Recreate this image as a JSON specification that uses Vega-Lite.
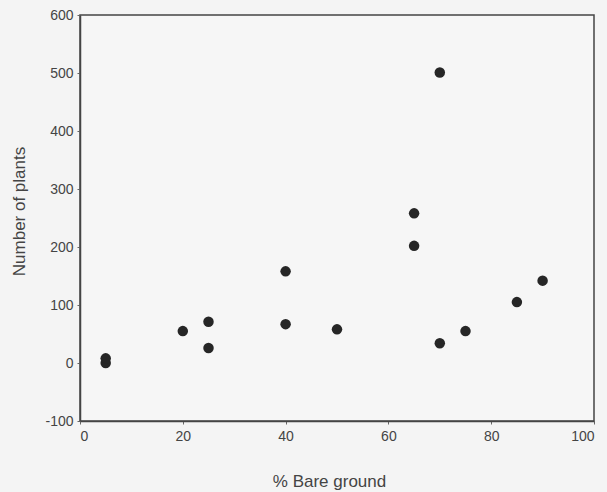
{
  "$schema": "https://vega.github.io/schema/vega-lite/v6.json",
  "width": 514,
  "height": 406,
  "autosize": {"type": "none"},
  "padding": {"left": 80, "top": 15, "right": 13, "bottom": 71},
  "background": "#f4f4f4",
  "config": {
    "view": {"stroke": "#444444", "strokeWidth": 1.5, "fill": "#f6f6f6"},
    "axis": {
      "labelFont": "Liberation Sans",
      "titleFont": "Liberation Sans",
      "labelFontSize": 14,
      "titleFontSize": 17,
      "titleFontWeight": "normal",
      "labelColor": "#444444",
      "titleColor": "#444444",
      "domainColor": "#444444",
      "domainWidth": 1.5,
      "tickColor": "#666666",
      "tickSize": 3,
      "grid": false
    }
  },
  "data": {
    "values": [
      {"bare": 5, "plants": 0},
      {"bare": 5, "plants": 8},
      {"bare": 20, "plants": 55},
      {"bare": 25, "plants": 71},
      {"bare": 25, "plants": 26},
      {"bare": 40, "plants": 158},
      {"bare": 40, "plants": 67},
      {"bare": 50, "plants": 58},
      {"bare": 65, "plants": 258},
      {"bare": 65, "plants": 202},
      {"bare": 70, "plants": 501},
      {"bare": 70, "plants": 34},
      {"bare": 75, "plants": 55},
      {"bare": 85, "plants": 105},
      {"bare": 90, "plants": 142}
    ]
  },
  "mark": {"type": "circle", "size": 110, "color": "#262626", "opacity": 1},
  "encoding": {
    "x": {
      "field": "bare",
      "type": "quantitative",
      "title": "% Bare ground",
      "scale": {"domain": [0, 100], "nice": false},
      "axis": {"values": [0, 20, 40, 60, 80, 100], "labelPadding": 5, "titlePadding": 30, "titleX": 249}
    },
    "y": {
      "field": "plants",
      "type": "quantitative",
      "title": "Number of plants",
      "scale": {"domain": [-100, 600], "nice": false, "zero": false},
      "axis": {"values": [-100, 0, 100, 200, 300, 400, 500, 600], "labelPadding": 4, "titlePadding": 16, "titleY": 196, "labelExpr": "replace(datum.label, '\u2212', '-')"}
    }
  }
}
